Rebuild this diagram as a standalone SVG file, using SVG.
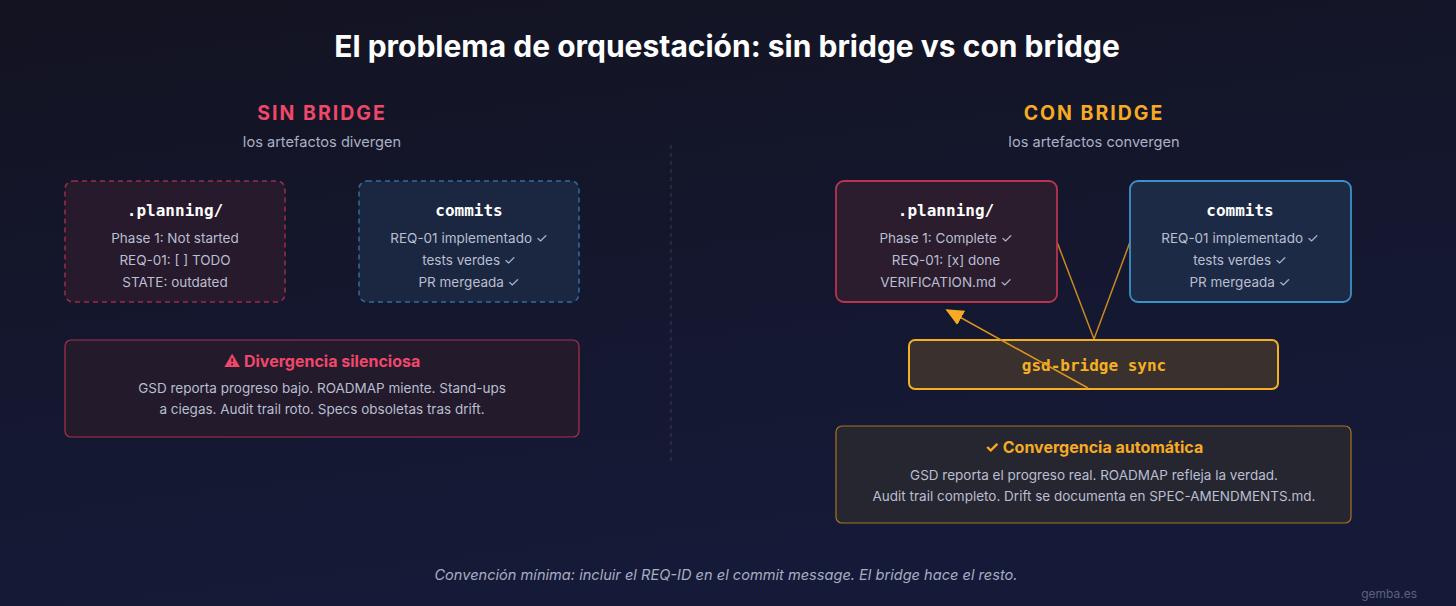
<svg xmlns="http://www.w3.org/2000/svg" width="1456" height="606" viewBox="0 0 1456 606">
<defs>
<linearGradient id="bg" x1="0" y1="0" x2="0.3" y2="1">
<stop offset="0" stop-color="#131321"/>
<stop offset="1" stop-color="#151a38"/>
</linearGradient>
<marker id="ah" viewBox="0 0 10 10" refX="9" refY="5" markerWidth="18" markerHeight="18" orient="auto" markerUnits="userSpaceOnUse">
<path d="M0,0.5 L10,5 L0,9.5 z" fill="#f7aa22"/>
</marker>
<style>
.title{font-family:Inter,"Liberation Sans",sans-serif;font-weight:700;font-size:30px;fill:#ffffff;text-anchor:middle}
.sec{font-family:Inter,"Liberation Sans",sans-serif;font-weight:700;font-size:19.5px;letter-spacing:2px;text-anchor:middle}
.sub{font-family:Inter,"Liberation Sans",sans-serif;font-size:14.6px;fill:#aab0c4;text-anchor:middle}
.mono{font-family:"DejaVu Sans Mono","Liberation Mono",monospace;font-weight:700;font-size:16px;fill:#ffffff;text-anchor:middle}
.body{font-family:Inter,"Liberation Sans",sans-serif;font-size:13.5px;fill:#b9bed0;text-anchor:middle}
.hd{font-family:Inter,"Liberation Sans",sans-serif;font-weight:700;font-size:16px;text-anchor:middle}
.foot{font-family:Inter,"Liberation Sans",sans-serif;font-style:italic;font-size:14.6px;fill:#a8adc0;text-anchor:middle}
</style>
</defs>
<rect width="1456" height="606" fill="url(#bg)"/>
<text class="title" x="727" y="57">El problema de orquestación: sin bridge vs con bridge</text>
<text class="sec" x="322" y="120" fill="#f0476a">SIN BRIDGE</text>
<text class="sub" x="322" y="147">los artefactos divergen</text>
<text class="sec" x="1094" y="120" fill="#f7aa22">CON BRIDGE</text>
<text class="sub" x="1094" y="147">los artefactos convergen</text>
<line x1="671" y1="145" x2="671" y2="463" stroke="#3a3d52" stroke-width="1" stroke-dasharray="4,4"/>

<g id="connectors" fill="none" stroke="#c8891f" stroke-width="1.5">
<line x1="1057" y1="242" x2="1094" y2="339"/>
<line x1="1130" y1="242" x2="1094" y2="339"/>
</g>

<g id="left-planning">
<rect x="65" y="181" width="220" height="121" rx="8" fill="#271a2c" stroke="#9a2e4a" stroke-width="1.5" stroke-dasharray="5,4"/>
<text class="mono" x="175" y="216">.planning/</text>
<text class="body" x="175" y="243">Phase 1: Not started</text>
<text class="body" x="175" y="265">REQ-01: [ ] TODO</text>
<text class="body" x="175" y="287">STATE: outdated</text>
</g>
<g id="left-commits">
<rect x="359" y="181" width="220" height="121" rx="8" fill="#1b2640" stroke="#2f6e9a" stroke-width="1.5" stroke-dasharray="5,4"/>
<text class="mono" x="469" y="216">commits</text>
<text class="body" x="469" y="243">REQ-01 implementado ✓</text>
<text class="body" x="469" y="265">tests verdes ✓</text>
<text class="body" x="469" y="287">PR mergeada ✓</text>
</g>
<g id="divergencia">
<rect x="65" y="340" width="514" height="97" rx="6" fill="#231a2c" stroke="#a8304c" stroke-width="1.2"/>
<text class="hd" x="322" y="367" fill="#f0476a">⚠ Divergencia silenciosa</text>
<text class="body" x="322" y="393">GSD reporta progreso bajo. ROADMAP miente. Stand-ups</text>
<text class="body" x="322" y="414">a ciegas. Audit trail roto. Specs obsoletas tras drift.</text>
</g>

<g id="right-planning">
<rect x="836" y="181" width="221" height="121" rx="8" fill="#2b1c2e" stroke="#b8344f" stroke-width="1.8"/>
<text class="mono" x="946" y="216">.planning/</text>
<text class="body" x="946" y="243">Phase 1: Complete ✓</text>
<text class="body" x="946" y="265">REQ-01: [x] done</text>
<text class="body" x="946" y="287">VERIFICATION.md ✓</text>
</g>
<g id="right-commits">
<rect x="1130" y="181" width="221" height="121" rx="8" fill="#1d2a45" stroke="#3b92c8" stroke-width="1.8"/>
<text class="mono" x="1240" y="216">commits</text>
<text class="body" x="1240" y="243">REQ-01 implementado ✓</text>
<text class="body" x="1240" y="265">tests verdes ✓</text>
<text class="body" x="1240" y="287">PR mergeada ✓</text>
</g>
<g id="sync">
<rect x="909" y="340" width="369" height="49" rx="6" fill="#3a302e" stroke="#f5b021" stroke-width="2"/>
<text class="mono" x="1094" y="371" style="fill:#f5b021">gsd-bridge sync</text>
</g>
<g id="connectors-arrow" fill="none" stroke="#d99420" stroke-width="1.5">
<line x1="1088" y1="388" x2="947" y2="310" marker-end="url(#ah)"/>
</g>
<g id="convergencia">
<rect x="836" y="426" width="515" height="97" rx="6" fill="#262631" stroke="#a87220" stroke-width="1.2"/>
<text class="hd" x="1094" y="453" fill="#f7aa22">✓ Convergencia automática</text>
<text class="body" x="1094" y="480">GSD reporta el progreso real. ROADMAP refleja la verdad.</text>
<text class="body" x="1094" y="501">Audit trail completo. Drift se documenta en SPEC-AMENDMENTS.md.</text>
</g>
<text class="foot" x="726" y="580">Convención mínima: incluir el REQ-ID en el commit message. El bridge hace el resto.</text>
<text x="1417" y="598" style="font-family:Inter,'Liberation Sans',sans-serif;font-size:12px;fill:#5c6180;text-anchor:end">gemba.es</text>
</svg>
